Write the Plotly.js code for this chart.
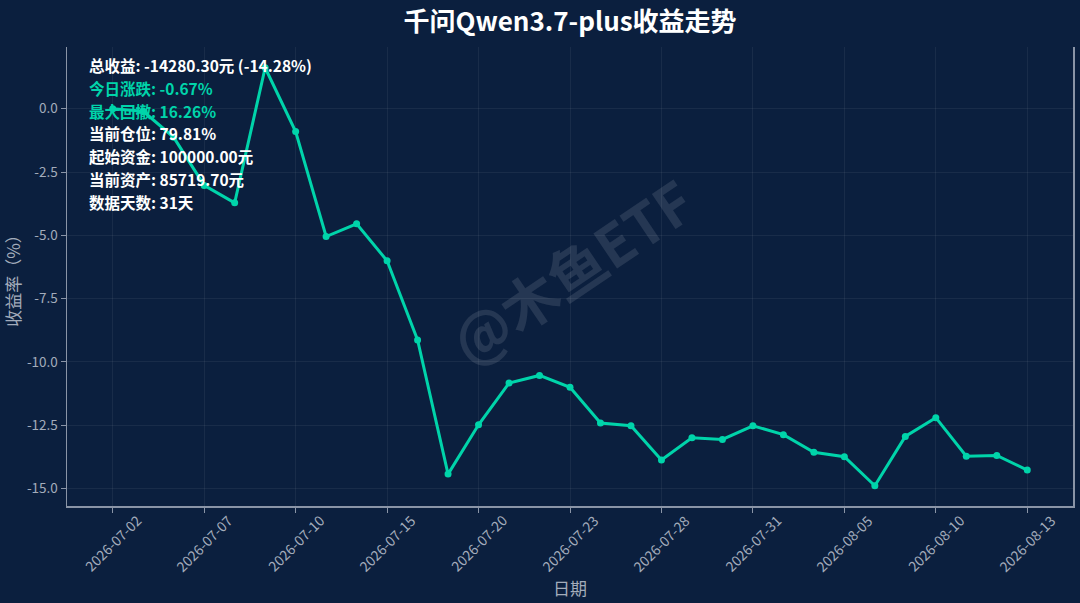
<!DOCTYPE html>
<html>
<head>
<meta charset="utf-8">
<script src="https://cdn.plot.ly/plotly-3.0.1.min.js"></script>
<style>
  html, body { margin: 0; padding: 0; background: #0b1f3e; }
  #chart { width: 1080px; height: 603px; }
</style>
</head>
<body>
<div id="chart"></div>
<script>
// trading days and cumulative return (%)
const dates = [
  "2026-07-02", "2026-07-03", "2026-07-06", "2026-07-07", "2026-07-08",
  "2026-07-09", "2026-07-10", "2026-07-13", "2026-07-14", "2026-07-15",
  "2026-07-16", "2026-07-17", "2026-07-20", "2026-07-21", "2026-07-22",
  "2026-07-23", "2026-07-24", "2026-07-27", "2026-07-28", "2026-07-29",
  "2026-07-30", "2026-07-31", "2026-08-03", "2026-08-04", "2026-08-05",
  "2026-08-06", "2026-08-07", "2026-08-10", "2026-08-11", "2026-08-12",
  "2026-08-13",
];
const returns = [
  0.0, -0.1, -1.13, -3.03, -3.72,
  1.62, -0.9, -5.05, -4.55, -6.01,
  -9.14, -14.44, -12.49, -10.84, -10.54,
  -11.01, -12.42, -12.53, -13.88, -13.0,
  -13.07, -12.53, -12.88, -13.58, -13.75,
  -14.9, -12.95, -12.21, -13.73, -13.7,
  -14.28,
];
const tickDates = dates.filter((d, i) => i % 3 === 0);

const statLines = [
  "总收益: -14280.30元 (-14.28%)",
  "今日涨跌: -0.67%",
  "最大回撤: 16.26%",
  "当前仓位: 79.81%",
  "起始资金: 100000.00元",
  "当前资产: 85719.70元",
  "数据天数: 31天",
];
const statColors = ["#ffffff", "#00d4aa", "#00d4aa", "#ffffff", "#ffffff", "#ffffff", "#ffffff"];

const bg = "#0b1f3e";
const teal = "#00d4aa";
const grey = "#a3acbb";
const fontFamily = "Noto Sans CJK SC, Noto Sans, sans-serif";

const trace = {
  x: dates,
  y: returns,
  type: "scatter",
  mode: "lines+markers",
  line: { color: teal, width: 3 },
  marker: { color: teal, size: 7 },
  hoverinfo: "x+y",
};

const statAnnotations = statLines.map((t, i) => ({
  text: "<b>" + t + "</b>",
  xref: "paper",
  yref: "paper",
  x: 0.02,
  y: 0.961 - i * 0.0497,
  xanchor: "left",
  yanchor: "middle",
  showarrow: false,
  align: "left",
  font: { family: fontFamily, size: 15.5, color: statColors[i] },
}));

// rotated date labels centred under their ticks
const tickAnnotations = tickDates.map((d) => ({
  text: d,
  xref: "x",
  yref: "paper",
  x: d,
  y: -0.081,
  showarrow: false,
  textangle: -45,
  xanchor: "center",
  yanchor: "middle",
  font: { family: fontFamily, size: 14, color: grey },
}));

const layout = {
  width: 1080,
  height: 603,
  paper_bgcolor: bg,
  plot_bgcolor: bg,
  margin: { l: 67, r: 7, t: 47, b: 97 },
  font: { family: fontFamily, color: grey },
  showlegend: false,
  title: {
    text: "<b>千问Qwen3.7-plus收益走势</b>",
    xref: "paper",
    x: 0.5,
    y: 0.964,
    yanchor: "middle",
    font: { family: fontFamily, size: 26, color: "#ffffff" },
  },
  xaxis: {
    type: "category",
    range: [-1.5, 31.5],
    tickmode: "array",
    tickvals: tickDates,
    showticklabels: false,
    ticks: "outside",
    ticklen: 5,
    tickcolor: "#8a94a6",
    showline: true,
    linecolor: "#8a94a6",
    linewidth: 1.5,
    gridcolor: "rgba(255,255,255,0.06)",
    zeroline: false,
  },
  yaxis: {
    range: [-15.7, 2.44],
    tickvals: [0, -2.5, -5, -7.5, -10, -12.5, -15],
    ticktext: ["0.0", "-2.5", "-5.0", "-7.5", "-10.0", "-12.5", "-15.0"],
    tickfont: { size: 13.5, color: grey },
    ticks: "outside",
    ticklen: 5,
    tickcolor: "#8a94a6",
    showline: true,
    mirror: true,
    linecolor: "#8a94a6",
    linewidth: 1.5,
    gridcolor: "rgba(255,255,255,0.06)",
    zeroline: false,
    title: { text: "收益率（%）", font: { size: 17, color: grey }, standoff: 8 },
  },
  annotations: [
    {
      text: "<b>@木鱼ETF</b>",
      xref: "paper",
      yref: "paper",
      x: 0.5,
      y: 0.515,
      showarrow: false,
      textangle: -34,
      font: { family: fontFamily, size: 57, color: "rgba(255,255,255,0.11)" },
    },
    {
      text: "日期",
      xref: "paper",
      yref: "paper",
      x: 0.5,
      y: -0.177,
      showarrow: false,
      yanchor: "middle",
      font: { family: fontFamily, size: 17, color: grey },
    },
    ...tickAnnotations,
    ...statAnnotations,
  ],
};

Plotly.newPlot("chart", [trace], layout, { displayModeBar: false, staticPlot: true });
</script>
</body>
</html>
